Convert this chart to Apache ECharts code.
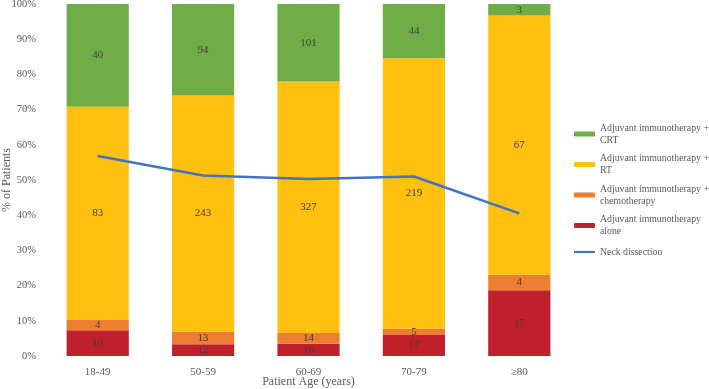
<!DOCTYPE html>
<html>
<head>
<meta charset="utf-8">
<script src="https://cdn.jsdelivr.net/npm/echarts@6/dist/echarts.min.js"></script>
<style>
  html, body { margin: 0; padding: 0; background: #fff; }
  #chart { width: 709px; height: 389px; }
</style>
</head>
<body>
<div id="chart"></div>
<script>
const ageGroups = ['18-49', '50-59', '60-69', '70-79', '≥80']
const aloneCounts = [10, 12, 16, 17, 17]
const chemoCounts = [4, 13, 14, 5, 4]
const rtCounts = [83, 243, 327, 219, 67]
const crtCounts = [40, 94, 101, 44, 3]
const neckDissection = [56.8, 51.3, 50.3, 51.0, 40.5]
const yTicks = [0, 100, 10]

const totals = ageGroups.map((_, i) => aloneCounts[i] + chemoCounts[i] + rtCounts[i] + crtCounts[i])
const toPct = arr => arr.map((v, i) => ({ value: v / totals[i] * 100, count: v }))

const font = 'Liberation Serif, Times New Roman, serif'
const textColor = '#595959'

const chart = echarts.init(document.getElementById('chart'))

const barSeries = (name, counts, color) => ({
  name,
  type: 'bar',
  stack: 'total',
  barWidth: '59%',
  data: toPct(counts),
  itemStyle: { color },
  label: {
    show: true,
    position: 'inside',
    color: '#404040',
    fontFamily: font,
    fontSize: 11,
    formatter: p => p.data.count
  },
  emphasis: { disabled: true }
})

const twoLine = { padding: [12, 0, 0, 0], lineHeight: 12 }

const option = {
  animation: false,
  grid: { left: 45, right: 137, top: 4, bottom: 33, outerBoundsMode: 'none' },
  legend: {
    orient: 'vertical',
    left: 574,
    top: 116,
    padding: 0,
    itemWidth: 21,
    itemHeight: 5,
    itemGap: -5.5,
    textStyle: { fontFamily: font, fontSize: 9.8, color: textColor, lineHeight: 12 },
    formatter: name => name.replace(' + ', ' +\n').replace(' alone', '\nalone'),
    data: [
      { name: 'Adjuvant immunotherapy + CRT', textStyle: twoLine },
      { name: 'Adjuvant immunotherapy + RT', textStyle: twoLine },
      { name: 'Adjuvant immunotherapy + chemotherapy', textStyle: twoLine },
      { name: 'Adjuvant immunotherapy alone', textStyle: twoLine },
      {
        name: 'Neck dissection',
        icon: 'path://M0,0M0,1.4L21,1.4L21,3.6L0,3.6ZM21,5',
        textStyle: { padding: [8, 0, 8, 0] }
      }
    ]
  },
  xAxis: {
    type: 'category',
    data: ageGroups,
    name: 'Patient Age (years)',
    nameLocation: 'middle',
    nameGap: 20,
    nameMoveOverlap: false,
    nameTextStyle: { fontFamily: font, fontSize: 12, color: textColor },
    axisLine: { show: false },
    axisTick: { show: false },
    axisLabel: { fontFamily: font, fontSize: 11, color: textColor, margin: 11 }
  },
  yAxis: {
    type: 'value',
    min: yTicks[0],
    max: yTicks[1],
    interval: yTicks[2],
    name: '% of Patients',
    nameLocation: 'middle',
    nameGap: 32,
    nameMoveOverlap: false,
    nameTextStyle: { fontFamily: font, fontSize: 12, color: textColor },
    splitLine: { show: false },
    axisLine: { show: false },
    axisTick: { show: false },
    axisLabel: { fontFamily: font, fontSize: 10.5, color: textColor, margin: 9, formatter: '{value}%' }
  },
  series: [
    barSeries('Adjuvant immunotherapy alone', aloneCounts, '#C0202B'),
    barSeries('Adjuvant immunotherapy + chemotherapy', chemoCounts, '#ED7D31'),
    barSeries('Adjuvant immunotherapy + RT', rtCounts, '#FFC010'),
    barSeries('Adjuvant immunotherapy + CRT', crtCounts, '#70AD47'),
    {
      name: 'Neck dissection',
      type: 'line',
      data: neckDissection,
      symbol: 'none',
      lineStyle: { color: '#4472C4', width: 2.5 },
      itemStyle: { color: '#4472C4' },
      z: 10
    }
  ]
}

chart.setOption(option)
</script>
</body>
</html>
